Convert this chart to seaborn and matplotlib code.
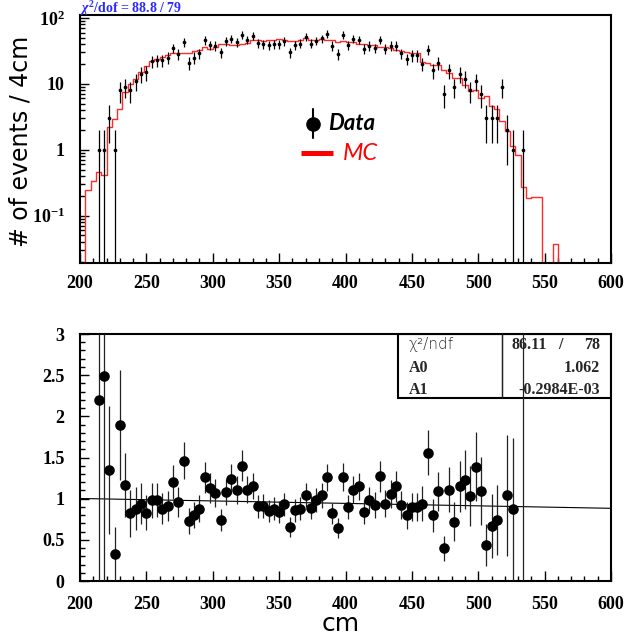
import numpy as np
import pandas as pd
import matplotlib
matplotlib.use("Agg")
import matplotlib.pyplot as plt
import seaborn as sns
from matplotlib.ticker import FixedLocator, FixedFormatter, MultipleLocator, NullFormatter, LogLocator
from matplotlib.patches import Rectangle
from matplotlib.lines import Line2D

# ---------------- data ----------------
bin_start, bin_stop, bin_width = 200, 600, 4

mc_counts = [
    0, 0.244, 0.338, 0.46, 0.41, 2.21, 2.9, 4.2, 7.5, 10.1,
    12.0, 15.1, 18.5, 22.2, 23.6, 25.6, 27.8, 29.4, 29.4, 29.4,
    29.4, 31.5, 33.0, 36.3, 34.2, 35.8, 40.3, 40.8, 38.5, 38.5,
    39.9, 42.3, 45.8, 45.8, 44.2, 45.8, 45.8, 47.5, 46.9, 44.8,
    44.8, 46.4, 49.6, 45.8, 45.8, 47.5, 45.8, 45.8, 43.1, 44.2,
    43.1, 43.1, 40.8, 39.9, 38.5, 38.5, 36.9, 36.3, 35.4, 33.0,
    31.3, 30.0, 29.8, 29.8, 21.7, 21.0, 19.4, 19.4, 16.3, 14.5,
    12.2, 12.2, 9.6, 7.9, 8.1, 6.0, 6.6, 4.6, 4.1, 2.7,
    1.95, 1.14, 0.83, 0.274, 0.187, 0.193, 0.193, 0, 0, 0.037,
    0, 0, 0, 0, 0, 0, 0, 0, 0, 0,
]

data_counts = [
    0, 0, 0, 1, 1, 3, 1, 8, 9, 8,
    11, 14, 15, 22, 23, 23, 25, 35, 28, 43,
    21, 25, 29, 46, 39, 38, 30, 44, 48, 43,
    56, 47, 53, 42, 40, 39, 40, 40, 44, 30,
    39, 41, 52, 41, 45, 49, 58, 38, 28, 56,
    39, 48, 47, 34, 38, 35, 47, 34, 38, 38,
    29, 24, 27, 27, 20, 33, 16, 21, 7, 16,
    9, 14, 12, 8, 11, 7, 3, 3, 3, 9,
    2, 1, 0, 1, 0, 0, 0, 0, 0, 0,
    0, 0, 0, 0, 0, 0, 0, 0, 0, 0,
]

nan = np.nan
ratio = [
    nan, nan, nan, 2.20, 2.49, 1.35, 0.33, 1.89, 1.17, 0.82,
    0.88, 0.94, 0.83, 0.98, 0.98, 0.88, 0.91, 1.20, 0.96, 1.46,
    0.73, 0.80, 0.88, 1.26, 1.13, 1.07, 0.74, 1.08, 1.24, 1.11,
    1.40, 1.11, 1.15, 0.91, 0.91, 0.85, 0.88, 0.84, 0.93, 0.66,
    0.86, 0.88, 1.05, 0.89, 0.98, 1.04, 1.26, 0.82, 0.64, 1.26,
    0.90, 1.11, 1.15, 0.84, 0.98, 0.92, 1.27, 0.94, 1.06, 1.15,
    0.92, 0.80, 0.90, 0.90, 0.94, 1.56, 0.80, 1.09, 0.40, 1.11,
    0.72, 1.15, 1.23, 1.03, 1.39, 1.09, 0.44, 0.67, 0.74, 3.33,
    1.04, 0.87, nan, 3.65, nan, nan, nan, nan, nan, nan,
    nan, nan, nan, nan, nan, nan, nan, nan, nan, nan,
]

fit_A0 = 1.062
fit_A1 = -0.2984e-3
chi2_top, dof_top = "88.8", "79"
chi2_fit, ndf_fit = "86.11", "78"

x_ticks = [200, 250, 300, 350, 400, 450, 500, 550, 600]
top_y_ticks = [0.1, 1, 10, 100]
top_y_labels = [r"$10^{-1}$", "1", "10", r"$10^{2}$"]
bot_y_ticks = [0, 0.5, 1, 1.5, 2, 2.5, 3]
bot_y_labels = ["0", "0.5", "1", "1.5", "2", "2.5", "3"]

# ---------------- style ----------------
sns.set_style("ticks")
plt.rcParams.update({
    "font.family": ["Liberation Serif", "DejaVu Serif"],
    "font.weight": "bold",
    "mathtext.fontset": "custom",
    "mathtext.rm": "Liberation Serif:bold",
    "mathtext.bf": "Liberation Serif:bold",
    "mathtext.it": "Liberation Serif:italic:bold",
    "axes.linewidth": 1.5,
    "axes.edgecolor": "black",
    "xtick.direction": "in",
    "ytick.direction": "in",
    "xtick.color": "black",
    "ytick.color": "black",
})

edges = [bin_start + bin_width * k for k in range((bin_stop - bin_start) // bin_width + 1)]
centers = np.array(edges[:-1], dtype=float) + bin_width / 2
mc = np.array(mc_counts, dtype=float)
data = np.array(data_counts, dtype=float)
rat = np.array(ratio, dtype=float)
mc_df = pd.DataFrame({"x": centers, "w": mc})

W, H = 624, 639
fig = plt.figure(figsize=(W / 100, H / 100), dpi=100)
ax1 = fig.add_axes([80 / W, 1 - 262.7 / H, 531 / W, 247.4 / H])
ax2 = fig.add_axes([80 / W, 1 - 581 / H, 531 / W, 247 / H])

# ---------------- top panel ----------------
sns.histplot(data=mc_df, x="x", weights="w", bins=edges, element="step", fill=False,
             color="#ff2a2a", linewidth=1.0, ax=ax1)
ax1.set_yscale("log")
m = data > 0
err = np.sqrt(data[m])
ax1.vlines(centers[m], data[m] - err, data[m] + err, color="black", lw=0.9, zorder=3)
sns.scatterplot(x=centers[m], y=data[m], color="black", s=7, linewidth=0,
                marker="o", ax=ax1, zorder=4)
ax1.set_xlim(bin_start, bin_stop)
ax1.set_ylim(0.0192, 110)
ax1.set_xlabel("")
ax1.set_ylabel("")
ax1.xaxis.set_major_locator(FixedLocator(x_ticks))
ax1.xaxis.set_minor_locator(MultipleLocator(10))
ax1.yaxis.set_major_locator(FixedLocator(top_y_ticks))
ax1.yaxis.set_major_formatter(FixedFormatter(top_y_labels))
ax1.yaxis.set_minor_locator(LogLocator(base=10, subs=np.arange(2, 10)))
ax1.yaxis.set_minor_formatter(NullFormatter())

# legend (manual, ROOT style)
fig.add_artist(Line2D([313 / W, 313 / W], [1 - 109 / H, 1 - 138 / H], color="black", lw=1.5))
fig.add_artist(Line2D([313 / W], [1 - 123.5 / H], marker="o", markersize=9.5,
                      color="black", lw=0))
fig.text(328 / W, 1 - 124 / H, "Data", family="Lato", style="italic", weight="bold",
         size=16, color="black", va="center", ha="left")
fig.add_artist(Line2D([301 / W, 333 / W], [1 - 152.5 / H, 1 - 152.5 / H], color="red", lw=3.6,
                      solid_capstyle="butt"))
fig.text(343 / W, 1 - 153 / H, "MC", family="Lato", style="italic", weight="normal",
         size=17, color="red", va="center", ha="left")

fig.text(80 / W, 1 - 8.5 / H, r"$\chi^{2}$/dof = " + chi2_top + " / " + dof_top,
         color="#2a2aff", size=10, weight="bold", family="Liberation Serif",
         va="center", ha="left")

# ---------------- bottom panel ----------------
mb = ~np.isnan(rat) & (data > 0)
rerr = rat[mb] / np.sqrt(data[mb])
ax2.vlines(centers[mb], rat[mb] - rerr, rat[mb] + rerr, color="#222222", lw=0.9, zorder=3)
sns.scatterplot(x=centers[mb], y=rat[mb], color="black", s=58, linewidth=0,
                marker="o", ax=ax2, zorder=4)
fit_x = np.array([bin_start, bin_stop], dtype=float)
sns.lineplot(x=fit_x, y=fit_A0 + fit_A1 * fit_x, color="black", lw=0.8, ax=ax2, zorder=2)
ax2.set_xlim(bin_start, bin_stop)
ax2.set_ylim(0, 3)
ax2.set_xlabel("")
ax2.set_ylabel("")
ax2.xaxis.set_major_locator(FixedLocator(x_ticks))
ax2.xaxis.set_minor_locator(MultipleLocator(10))
ax2.yaxis.set_major_locator(FixedLocator(bot_y_ticks))
ax2.yaxis.set_major_formatter(FixedFormatter(bot_y_labels))
ax2.yaxis.set_minor_locator(MultipleLocator(0.1))

# stats box
bx0, by0 = (397.7 - 80) / 531, (581 - 397.7) / 247
ax2.add_patch(Rectangle((bx0, by0), 1 - bx0, 1 - by0, transform=ax2.transAxes,
                        facecolor="white", edgecolor="black", lw=1.5, zorder=1))
xdiv = (501.7 - 80) / 531
ax2.plot([xdiv, xdiv], [by0, 1], transform=ax2.transAxes, color="black", lw=0.9, zorder=1)
def fy(py):
    return 1 - py / H
fig.text(409 / W, fy(345), "χ²/ndf", family="DejaVu Sans", weight="light",
         size=11, color="#333333", va="center", ha="left")
fig.text(547 / W, fy(345), chi2_fit, size=11.5, va="center", ha="right")
fig.text(560 / W, fy(345), "/", size=11.5, va="center", ha="center")
fig.text(600 / W, fy(345), ndf_fit, size=11.5, va="center", ha="right")
fig.text(409 / W, fy(368.5), "A0", size=11.5, va="center", ha="left")
fig.text(600 / W, fy(368.5), f"{fit_A0:.3f}", size=11.5, va="center", ha="right")
fig.text(409 / W, fy(389.5), "A1", size=11.5, va="center", ha="left")
fig.text(600 / W, fy(389.5), "-0.2984E-03", size=11.5, va="center", ha="right")

for ax in (ax1, ax2):
    ax.tick_params(axis="both", which="both", top=False, right=False, direction="in",
                   labelsize=13, width=1.0)
    ax.tick_params(axis="x", which="major", length=7, pad=9)
    ax.tick_params(axis="x", which="minor", length=3.8)
    ax.tick_params(axis="y", which="major", length=6.5, pad=11)
    ax.tick_params(axis="y", which="minor", length=3.5)
    for s in ax.spines.values():
        s.set_visible(True)
        s.set_linewidth(1.5)
    for lab in ax.get_xticklabels() + ax.get_yticklabels():
        lab.set_fontweight("bold")
        lab.set_fontfamily("Liberation Serif")
ax2.tick_params(axis="x", which="major", pad=11)

fig.text(21 / W, 1 - 141 / H, "# of events / 4cm", family="DejaVu Sans", weight="normal",
         size=17, rotation=90, va="center", ha="center", color="black")
fig.text(341 / W, 1 - 624 / H, "cm", family="DejaVu Sans", weight="normal",
         size=18, va="center", ha="center", color="black")

fig.savefig("out.png", dpi=100)
